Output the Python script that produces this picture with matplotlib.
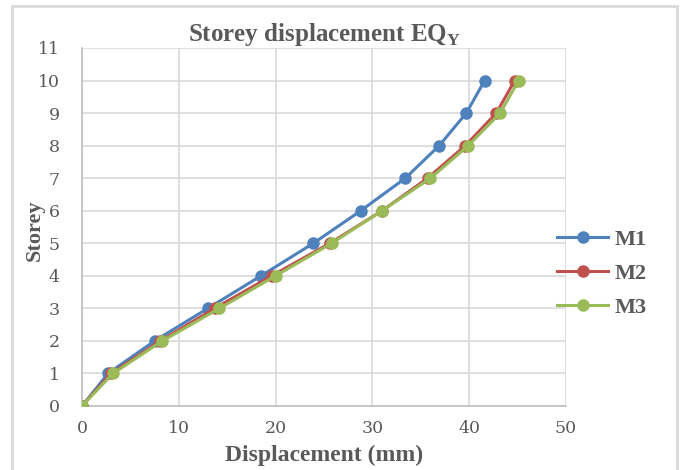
import matplotlib
matplotlib.use("Agg")
import matplotlib.pyplot as plt
from matplotlib.patches import Rectangle

# Storey levels and displacement (mm) for each model
storeys = [0, 1, 2, 3, 4, 5, 6, 7, 8, 9, 10]
m1 = [0, 2.7, 7.5, 13.0, 18.5, 23.9, 28.8, 33.4, 36.9, 39.7, 41.6]
m2 = [0, 3.0, 8.1, 13.7, 19.6, 25.6, 31.0, 35.7, 39.6, 42.8, 44.7]
m3 = [0, 3.2, 8.3, 14.2, 20.0, 25.8, 31.0, 36.0, 39.9, 43.2, 45.1]
series = [("M1", m1, "#4F81BD"), ("M2", m2, "#C0504D"), ("M3", m3, "#9BBB59")]
x_ticks = [0, 10, 20, 30, 40, 50]
y_ticks = list(range(0, 12))

plt.rcParams["mathtext.fontset"] = "custom"
plt.rcParams["mathtext.rm"] = "Liberation Serif:bold"
plt.rcParams["mathtext.bf"] = "Liberation Serif:bold"

W, H = 681, 470
fig = plt.figure(figsize=(W / 100, H / 100), dpi=100)
ax = fig.add_axes([82 / W, 1 - 406 / H, (566 - 82) / W, (406 - 48) / H])

for name, vals, col in series:
    ax.plot(vals, storeys, color=col, lw=2.2, marker="o", ms=8,
            markeredgecolor=col, label=name, zorder=3)

ax.set_xlim(0, 50)
ax.set_ylim(0, 11)
ax.set_xticks(x_ticks)
ax.set_yticks(y_ticks)
ax.grid(True, color="#D9D9D9", lw=1.2, zorder=0)
ax.set_axisbelow(True)
for s in ("top", "right"):
    ax.spines[s].set_visible(False)
for s in ("left", "bottom"):
    ax.spines[s].set_color("#BFBFBF")
    ax.spines[s].set_linewidth(1.2)
ax.tick_params(length=0, colors="#595959", labelsize=12.5)
ax.tick_params(axis="y", pad=16)
ax.tick_params(axis="x", pad=10)
for lab in ax.get_xticklabels() + ax.get_yticklabels():
    lab.set_family("DejaVu Serif")
    lab.set_color("#595959")

ax.set_title(r"Storey displacement EQ$_{\mathbf{Y}}$", family="Liberation Serif",
             fontweight="bold", fontsize=18, color="#595959", pad=5)
ax.set_xlabel("Displacement (mm)", family="Liberation Serif", fontweight="bold",
              fontsize=17, color="#595959")
ax.set_ylabel("Storey", family="Liberation Serif", fontweight="bold",
              fontsize=16, color="#595959")
ax.xaxis.set_label_coords(0.5, -0.108)
ax.yaxis.set_label_coords(-0.077, 0.49)

leg = ax.legend(loc="center left", bbox_to_anchor=(0.963, 0.37), frameon=False,
                prop={"family": "Liberation Serif", "weight": "bold", "size": 16},
                labelspacing=0.6, handlelength=2.3, handletextpad=0.3,
                borderaxespad=0.0)
for t in leg.get_texts():
    t.set_color("#595959")

# chart-area frame
fig.patches.append(Rectangle((12 / W, -0.05), (677 - 12) / W, 1 - 6 / H + 0.05,
                             transform=fig.transFigure, fill=False,
                             edgecolor="#D9D9D9", lw=2))

fig.savefig("out.png", dpi=100)
